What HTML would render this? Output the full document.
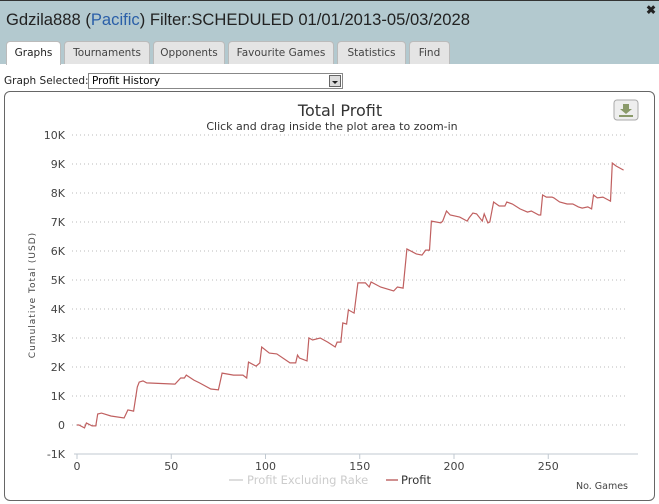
<!DOCTYPE html>
<html><head><meta charset="utf-8"><style>
body{margin:0;width:659px;height:504px;overflow:hidden;background:#fff;font-family:"DejaVu Sans","Liberation Sans",sans-serif;position:relative}
#hdr{position:absolute;left:0;top:0;width:659px;height:63px;background:#b3c9cf;border-top:1px solid #333}
#ttl{position:absolute;left:6px;top:9px;font:16.6px "Liberation Sans",sans-serif;color:#222}
#ttl span{color:#2a5fa8}
#close{position:absolute;right:3px;top:2px;font:bold 12px sans-serif;color:#222}
.tab{position:absolute;top:40px;height:23px;background:#e4e4e4;border:1px solid #bbb;border-bottom:none;border-radius:4px 4px 0 0;font-size:10.5px;color:#444;text-align:center;line-height:23px;box-sizing:border-box}
.tab.on{background:#fff;color:#222;height:24px}
#gs{position:absolute;left:4px;top:75px;font-size:10.5px;color:#222}
#dd{position:absolute;left:88px;top:73px;width:255px;height:16px;border:1px solid #888;box-sizing:border-box;font-size:10.5px;line-height:14px;padding-left:3px}
#dd b{position:absolute;right:1px;top:1px;width:12px;height:12px;border:1px solid #666;background:#ddd;box-sizing:border-box}
#dd b:after{content:"";position:absolute;left:2px;top:5px;border:3px solid transparent;border-top:3px solid #222}
#panel{position:absolute;left:4px;top:91px;width:651px;height:410px;border:1px solid #666;border-radius:6px;box-sizing:border-box}
svg{position:absolute;left:0;top:0}
</style></head><body>
<div id="hdr">
<div id="ttl">Gdzila888 (<span>Pacific</span>) Filter:SCHEDULED 01/01/2013-05/03/2028</div>
<div id="close">✖</div>
<div class="tab on" style="left:6px;width:55px">Graphs</div>
<div class="tab" style="left:64px;width:86px">Tournaments</div>
<div class="tab" style="left:153px;width:72px">Opponents</div>
<div class="tab" style="left:228px;width:106px">Favourite Games</div>
<div class="tab" style="left:337px;width:69px">Statistics</div>
<div class="tab" style="left:409px;width:41px">Find</div>
</div>
<div id="gs">Graph Selected:</div>
<div id="dd">Profit History<b></b></div>
<div id="panel"></div>
<svg id="chart" width="659" height="504">
<text x="340" y="116" text-anchor="middle" font-size="16" fill="#333">Total Profit</text>
<text x="332" y="130" text-anchor="middle" font-size="11" fill="#333">Click and drag inside the plot area to zoom-in</text>
<g><rect x="614" y="100" width="24" height="20" rx="3" fill="#eee" stroke="#aaa"/><path d="M623 104h6v5h3l-6 5-6-5h3z M619 115h14v2h-14z" fill="#8a9a6a"/></g>
<text transform="translate(35,295) rotate(-90)" text-anchor="middle" font-size="9" fill="#444" letter-spacing="1">Cumulative Total (USD)</text>
<g id="grid"></g><g id="yt"></g><g id="xt"></g>
<line x1="74" y1="454" x2="638" y2="454" stroke="#c0c8d0"/>
<path id="line" fill="none" stroke="#c06060" stroke-width="1.2"/>
<g>
<line x1="229" y1="480" x2="243" y2="480" stroke="#ddd" stroke-width="2"/>
<text x="247" y="484" font-size="11.5" fill="#ccc">Profit Excluding Rake</text>
<line x1="386" y1="480" x2="398" y2="480" stroke="#d09090" stroke-width="2"/>
<text x="401" y="484" font-size="11.5" fill="#333">Profit</text>
</g>
<text x="628" y="489" text-anchor="end" font-size="9.5" fill="#444">No. Games</text>
</svg>
<script>
const games=[0,1,4,5,8,10,11,13,18,25,27,30,32,33,35,37,52,55,57,58,62,65,71,75,77,83,88,90,91,95,97,98,102,106,113,116,117,118,122,123,125,129,133,137,138,140,141,143,144,147,149,153,155,156,161,168,170,173,175,180,183,185,187,188,193,194,196,198,203,207,208,210,212,215,216,218,219,221,224,227,228,231,235,239,241,245,246,247,249,252,253,256,260,263,266,268,271,273,274,276,279,281,283,284,286,290];
const profit=[0,0,-100,70,-30,-30,380,410,310,240,520,480,1310,1480,1520,1450,1410,1620,1620,1720,1550,1450,1240,1210,1790,1720,1720,1620,2170,2030,2140,2690,2480,2450,2140,2140,2410,2310,2210,3000,2930,3000,2860,2690,2860,2860,3520,3480,3970,3860,4900,4900,4760,4930,4760,4620,4760,4720,6070,5900,5860,6030,6030,7030,6970,7030,7380,7240,7170,7030,7140,7310,7280,7030,7280,6970,7000,7690,7550,7550,7690,7620,7450,7340,7380,7240,7240,7930,7860,7860,7830,7690,7620,7620,7520,7480,7520,7450,7930,7830,7860,7790,7720,9030,8930,8790];
const yTicks=[-1000,0,1000,2000,3000,4000,5000,6000,7000,8000,9000,10000];
const yLabels=["-1K","0","1K","2K","3K","4K","5K","6K","7K","8K","9K","10K"];
const xTicks=[0,50,100,150,200,250];
const X=g=>77+g*1.885, Y=v=>425-v*0.029;
const NS="http://www.w3.org/2000/svg";
function mk(t,a,p){const e=document.createElementNS(NS,t);for(const k in a)e.setAttribute(k,a[k]);p.appendChild(e);return e;}
const grid=document.getElementById('grid'),yt=document.getElementById('yt'),xt=document.getElementById('xt');
yTicks.forEach((v,i)=>{
 if(v>-1000){const l=mk('line',{x1:72,x2:628,y1:Y(v),y2:Y(v),stroke:'#bbb','stroke-dasharray':'1,3'},grid);
 
 }
 const t=mk('text',{x:65,y:Y(v)+4,'text-anchor':'end','font-size':11,fill:'#444'},yt);t.textContent=yLabels[i];
 
 
});
xTicks.forEach(g=>{
 mk('line',{x1:X(g),x2:X(g),y1:454,y2:459,stroke:'#c0c8d0'},xt);
 const t=mk('text',{x:X(g),y:470,'text-anchor':'middle','font-size':11,fill:'#444'},xt);t.textContent=g;
 
 
});
document.getElementById('line').setAttribute('d',games.map((g,i)=>(i?'L':'M')+X(g).toFixed(1)+' '+Y(profit[i]).toFixed(1)).join(''));
</script>
</body></html>
